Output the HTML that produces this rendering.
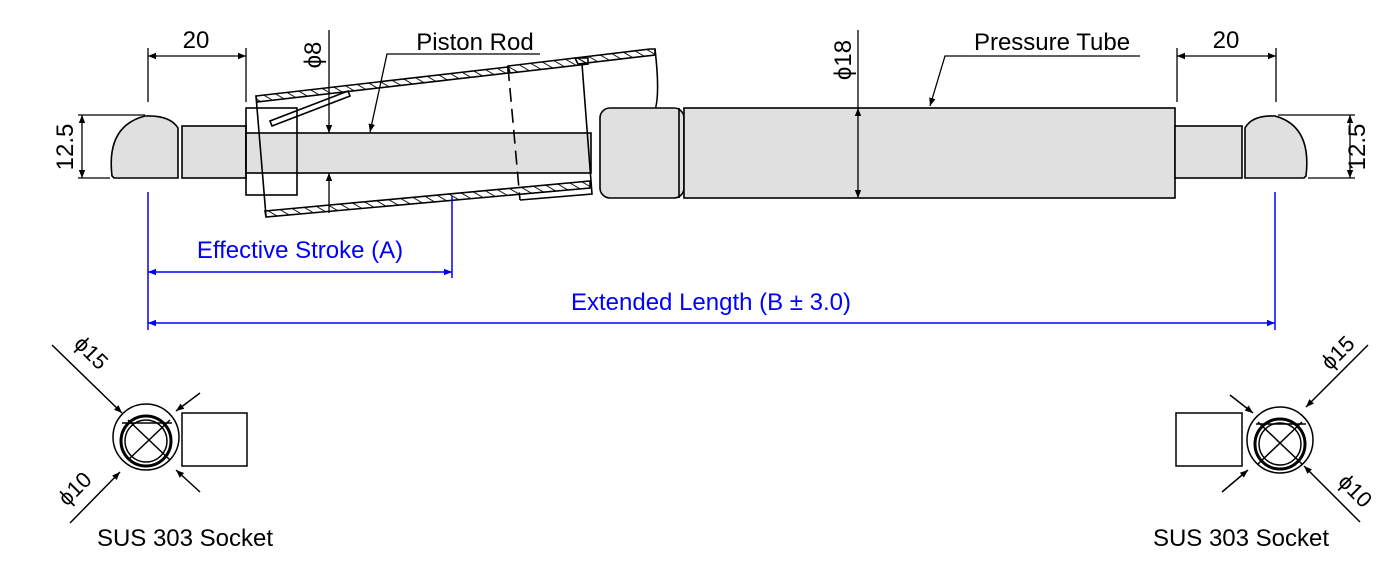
<!DOCTYPE html>
<html><head><meta charset="utf-8"><style>
html,body{margin:0;padding:0;background:#fff;}
svg{display:block;font-family:"Liberation Sans",sans-serif;}
</style></head><body>
<svg width="1400" height="568" viewBox="0 0 1400 568" xmlns="http://www.w3.org/2000/svg">
<defs>
<pattern id="h" width="7" height="7" patternUnits="userSpaceOnUse" patternTransform="rotate(-60)">
<line x1="0" y1="0" x2="0" y2="7" stroke="#000" stroke-width="1.8"/>
</pattern>
<marker id="a" viewBox="0 0 10 10" refX="10" refY="5" markerWidth="15" markerHeight="8" orient="auto-start-reverse" markerUnits="userSpaceOnUse"><path d="M0,1 L10,5 L0,9z" fill="#000"/></marker>
<marker id="b" viewBox="0 0 10 10" refX="10" refY="5" markerWidth="15" markerHeight="8" orient="auto-start-reverse" markerUnits="userSpaceOnUse"><path d="M0,1 L10,5 L0,9z" fill="#0000ff"/></marker>
</defs>
<g stroke="#000" stroke-width="1.6" fill="none">
<path d="M112,176 Q106,126 145,116 Q170,115 178,128 L178,178 L114,178 Z" fill="#e0e0e0"/>
<rect x="182" y="126" width="64" height="52" fill="#e0e0e0"/>
<rect x="246" y="133" width="345" height="40" fill="#e0e0e0"/>
<rect x="246" y="108" width="51" height="87"/>
<polygon points="256,96 508,67 508,73 257,102" fill="url(#h)"/>
<polygon points="265,211 590,181 590,188 266,217" fill="url(#h)"/>
<path d="M256,96 L266,216"/>
<path d="M272,126 L350,96 L348,91 L270,121Z"/>
<polygon points="508,66 575,58 588,58 588,64 510,73" fill="url(#h)"/>
<polygon points="575,58 650,49 655,49 655,55 578,64" fill="url(#h)"/>
<path d="M582,64 L592,194 L520,200" />
<path d="M508,67 L520,200" stroke-dasharray="14,7"/>
<path d="M655,49 Q662,110 650,118 Q610,124 602,140"/>
<rect x="600" y="108" width="84" height="90" rx="10" fill="#e0e0e0"/>
<rect x="684" y="108" width="491" height="90" fill="#e0e0e0"/>
<line x1="679" y1="108" x2="679" y2="198"/>
<rect x="1175" y="126" width="67" height="52" fill="#e0e0e0"/>
<path d="M1306,176 Q1312,126 1275,116 Q1252,115 1245,128 L1245,178 L1304,178 Z" fill="#e0e0e0"/>
</g>
<g stroke="#000" stroke-width="1.3" fill="none">
<line x1="148" y1="48" x2="148" y2="102"/><line x1="246" y1="48" x2="246" y2="102"/>
<line x1="148" y1="56" x2="246" y2="56" marker-start="url(#a)" marker-end="url(#a)"/>
<line x1="1177" y1="48" x2="1177" y2="102"/><line x1="1276" y1="48" x2="1276" y2="102"/>
<line x1="1177" y1="56" x2="1276" y2="56" marker-start="url(#a)" marker-end="url(#a)"/>
<line x1="78" y1="115" x2="145" y2="115"/><line x1="78" y1="178" x2="110" y2="178"/>
<line x1="82" y1="115" x2="82" y2="178" marker-start="url(#a)" marker-end="url(#a)"/>
<line x1="1278" y1="115" x2="1355" y2="115"/><line x1="1308" y1="178" x2="1355" y2="178"/>
<line x1="1350" y1="115" x2="1350" y2="178" marker-start="url(#a)" marker-end="url(#a)"/>
<line x1="329" y1="30" x2="329" y2="133" marker-end="url(#a)"/>
<line x1="329" y1="213" x2="329" y2="173" marker-end="url(#a)"/>
<line x1="858" y1="30" x2="858" y2="108"/><line x1="858" y1="108" x2="858" y2="198" marker-start="url(#a)" marker-end="url(#a)"/>
<polyline points="540,54 387,54 370,132" marker-end="url(#a)"/>
<polyline points="1140,56 945,56 930,106" marker-end="url(#a)"/>
</g>
<g font-size="24" fill="#000">
<text x="196" y="48" text-anchor="middle">20</text>
<text x="1226" y="48" text-anchor="middle">20</text>
<text x="475" y="50" text-anchor="middle">Piston Rod</text>
<text x="1052" y="50" text-anchor="middle">Pressure Tube</text>
<text transform="translate(73,147) rotate(-90)" text-anchor="middle">12.5</text>
<text transform="translate(1365,147) rotate(-90)" text-anchor="middle">12.5</text>
<text transform="translate(321,55) rotate(-90)" text-anchor="middle">ϕ8</text>
<text transform="translate(851,60) rotate(-90)" text-anchor="middle">ϕ18</text>
<text x="185" y="546" text-anchor="middle">SUS 303 Socket</text>
<text x="1241" y="546" text-anchor="middle">SUS 303 Socket</text>
<text transform="translate(86,358) rotate(45)" text-anchor="middle" font-size="22">ϕ15</text>
<text transform="translate(80,494) rotate(-45)" text-anchor="middle" font-size="22">ϕ10</text>
<text transform="translate(1343,358) rotate(-45)" text-anchor="middle" font-size="22">ϕ15</text>
<text transform="translate(1350,496) rotate(45)" text-anchor="middle" font-size="22">ϕ10</text>
</g>
<g stroke="#0000ff" stroke-width="1.5" fill="none">
<line x1="148" y1="192" x2="148" y2="330"/><line x1="452" y1="196" x2="452" y2="278"/><line x1="1275" y1="192" x2="1275" y2="330"/>
<line x1="148" y1="272" x2="452" y2="272" marker-start="url(#b)" marker-end="url(#b)"/>
<line x1="148" y1="323" x2="1275" y2="323" marker-start="url(#b)" marker-end="url(#b)"/>
</g>
<g font-size="24" fill="#0000ff">
<text x="300" y="258" text-anchor="middle">Effective Stroke (A)</text>
<text x="711" y="310" text-anchor="middle">Extended Length (B ± 3.0)</text>
</g>
<g stroke="#000" stroke-width="1.5" fill="none">
<circle cx="146" cy="437" r="33"/>
<circle cx="146" cy="441" r="25" stroke-width="3"/>
<circle cx="146" cy="441" r="21"/>
<line x1="122" y1="423" x2="172" y2="423"/>
<line x1="128" y1="420" x2="170" y2="460"/><line x1="128" y1="460" x2="170" y2="420"/>
<rect x="182" y="413" width="65" height="53"/>
<line x1="52" y1="345" x2="122" y2="413" marker-end="url(#a)"/>
<line x1="70" y1="523" x2="120" y2="472" marker-end="url(#a)"/>
<line x1="200" y1="393" x2="176" y2="411" marker-end="url(#a)"/>
<line x1="200" y1="492" x2="176" y2="470" marker-end="url(#a)"/>
<circle cx="1280" cy="440" r="33"/>
<circle cx="1280" cy="444" r="25" stroke-width="3"/>
<circle cx="1280" cy="444" r="21"/>
<line x1="1256" y1="424" x2="1306" y2="424"/>
<line x1="1258" y1="422" x2="1302" y2="464"/><line x1="1258" y1="464" x2="1302" y2="422"/>
<rect x="1176" y="413" width="66" height="53"/>
<line x1="1368" y1="345" x2="1306" y2="407" marker-end="url(#a)"/>
<line x1="1360" y1="522" x2="1304" y2="466" marker-end="url(#a)"/>
<line x1="1230" y1="395" x2="1253" y2="413" marker-end="url(#a)"/>
<line x1="1222" y1="492" x2="1248" y2="470" marker-end="url(#a)"/>
</g>
</svg>
</body></html>
